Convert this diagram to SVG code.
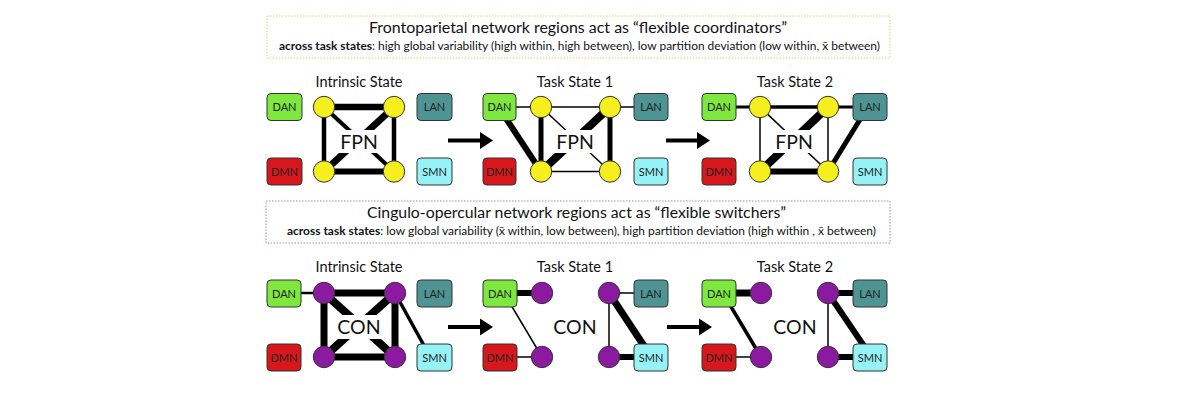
<svg xmlns="http://www.w3.org/2000/svg" width="1200" height="400" viewBox="0 0 1200 400">
<style>
text{font-family:Lato,"Noto Sans","DejaVu Sans",sans-serif;fill:#111}
.title{font-size:15.5px}
.sub{font-size:11.5px}
.sub .b{font-weight:700}
.state{font-size:14.5px;text-anchor:middle}
.net{font-size:19.5px;text-anchor:middle}
.lbl{font-size:11px;text-anchor:middle;fill:#222}
.box{stroke:#333;stroke-width:1}
.dan{fill:#7ee83f}
.dmn{fill:#d8171c}
.lan{fill:#4f9494}
.smn{fill:#95f3f6}
.y{fill:#f5ef20;stroke:#333;stroke-width:1}
.p{fill:#8b1aa0;stroke:#333;stroke-width:1}
.e{stroke:#000;fill:none}
.w{fill:#fff}
.arr{fill:#000}
</style>
<rect width="1200" height="400" fill="#fff"/>
<g id="header-fpn">
<rect x="267" y="16" width="623" height="42" fill="none" stroke="#d3d86c" stroke-width="1" stroke-dasharray="1.5 1.5"/>
<text class="title" x="369" y="33" textLength="418" lengthAdjust="spacingAndGlyphs">Frontoparietal network regions act as “flexible coordinators”</text>
<text class="sub" x="279" y="50" textLength="601" lengthAdjust="spacingAndGlyphs"><tspan class="b">across task states</tspan>: high global variability (high within, high between), low partition deviation (low within, x̄ between)</text>
</g>
<g id="header-con">
<rect x="266" y="201" width="624" height="42" fill="none" stroke="#b47ac4" stroke-width="1" stroke-dasharray="1.5 1.5"/>
<text class="title" x="367" y="218" textLength="419" lengthAdjust="spacingAndGlyphs">Cingulo-opercular network regions act as “flexible switchers”</text>
<text class="sub" x="287" y="235" textLength="589" lengthAdjust="spacingAndGlyphs"><tspan class="b">across task states</tspan>: low global variability (x̄ within, low between), high partition deviation (high within , x̄ between)</text>
</g>
<g id="connectors">
<!-- top intrinsic -->
<line class="e" x1="324" y1="107" x2="394" y2="107" stroke-width="6.5"/>
<line class="e" x1="324" y1="171.5" x2="394" y2="171.5" stroke-width="6"/>
<line class="e" x1="324" y1="107" x2="324" y2="171.5" stroke-width="4.5"/>
<line class="e" x1="394" y1="107" x2="394" y2="171.5" stroke-width="4.5"/>
<line class="e" x1="324" y1="107" x2="394" y2="171.5" stroke-width="4"/>
<line class="e" x1="394" y1="107" x2="324" y2="171.5" stroke-width="7"/>
<!-- top task1 -->
<line class="e" x1="516" y1="107" x2="541" y2="107" stroke-width="1.5"/>
<line class="e" x1="541" y1="107" x2="610" y2="107" stroke-width="1.5"/>
<line class="e" x1="610" y1="107" x2="634" y2="107" stroke-width="1.5"/>
<line class="e" x1="503" y1="114" x2="541" y2="171.5" stroke-width="6"/>
<line class="e" x1="541" y1="107" x2="541" y2="171.5" stroke-width="5"/>
<line class="e" x1="610" y1="107" x2="610" y2="171.5" stroke-width="5"/>
<line class="e" x1="610" y1="107" x2="541" y2="171.5" stroke-width="8"/>
<line class="e" x1="541" y1="107" x2="610" y2="171.5" stroke-width="1.5"/>
<line class="e" x1="541" y1="171.5" x2="610" y2="171.5" stroke-width="1.5"/>
<!-- top task2 -->
<line class="e" x1="736" y1="107" x2="760" y2="107" stroke-width="3"/>
<line class="e" x1="760" y1="107" x2="828" y2="107" stroke-width="3.5"/>
<line class="e" x1="828" y1="107" x2="853" y2="107" stroke-width="3"/>
<line class="e" x1="760" y1="107" x2="760" y2="171.5" stroke-width="1.5"/>
<line class="e" x1="828" y1="107" x2="828" y2="171.5" stroke-width="1.5"/>
<line class="e" x1="760" y1="107" x2="828" y2="171.5" stroke-width="1.5"/>
<line class="e" x1="828" y1="107" x2="760" y2="171.5" stroke-width="8"/>
<line class="e" x1="760" y1="171.5" x2="828" y2="171.5" stroke-width="6"/>
<line class="e" x1="864" y1="113" x2="828" y2="171.5" stroke-width="5"/>
<!-- bottom intrinsic -->
<line class="e" x1="301" y1="293" x2="324" y2="293" stroke-width="2.5"/>
<line class="e" x1="324" y1="293" x2="395" y2="293" stroke-width="7"/>
<line class="e" x1="324" y1="357" x2="395" y2="357" stroke-width="7"/>
<line class="e" x1="324" y1="293" x2="324" y2="357" stroke-width="7"/>
<line class="e" x1="395" y1="293" x2="395" y2="357" stroke-width="7"/>
<line class="e" x1="324" y1="293" x2="395" y2="357" stroke-width="8"/>
<line class="e" x1="395" y1="293" x2="324" y2="357" stroke-width="8"/>
<line class="e" x1="395" y1="293" x2="427" y2="351" stroke-width="3.5"/>
<!-- bottom task1 -->
<line class="e" x1="517" y1="293" x2="542" y2="293" stroke-width="6"/>
<line class="e" x1="508" y1="300" x2="542" y2="357" stroke-width="1.5"/>
<line class="e" x1="517" y1="357" x2="542" y2="357" stroke-width="1.5"/>
<line class="e" x1="609" y1="293" x2="634" y2="293" stroke-width="1.5"/>
<line class="e" x1="609" y1="293" x2="609" y2="357" stroke-width="1.5"/>
<line class="e" x1="609" y1="293" x2="648" y2="352" stroke-width="7"/>
<line class="e" x1="609" y1="357" x2="634" y2="357" stroke-width="6"/>
<!-- bottom task2 -->
<line class="e" x1="736" y1="293" x2="761" y2="293" stroke-width="7"/>
<line class="e" x1="727" y1="300" x2="761" y2="357" stroke-width="3.5"/>
<line class="e" x1="736" y1="357" x2="761" y2="357" stroke-width="1.5"/>
<line class="e" x1="828" y1="293" x2="853" y2="293" stroke-width="6"/>
<line class="e" x1="828" y1="293" x2="828" y2="357" stroke-width="1.5"/>
<line class="e" x1="828" y1="293" x2="868" y2="352" stroke-width="6"/>
<line class="e" x1="828" y1="357" x2="853" y2="357" stroke-width="6"/>
<!-- arrows -->
<rect class="arr" x="448" y="138.5" width="34" height="4"/>
<polygon class="arr" points="480,132 493,140.5 480,149"/>
<rect class="arr" x="666" y="138.5" width="33" height="4"/>
<polygon class="arr" points="697,132 710,140.5 697,149"/>
<rect class="arr" x="448" y="325" width="34" height="4"/>
<polygon class="arr" points="480,318.5 493,327 480,335.5"/>
<rect class="arr" x="667" y="325" width="34" height="4"/>
<polygon class="arr" points="699,318.5 712,327 699,335.5"/>
</g>
<g id="titles">
<text class="state" x="359" y="87">Intrinsic State</text>
<text class="state" x="575" y="87">Task State 1</text>
<text class="state" x="795" y="87">Task State 2</text>
<text class="state" x="359" y="272">Intrinsic State</text>
<text class="state" x="575" y="272">Task State 1</text>
<text class="state" x="795" y="272">Task State 2</text>
</g>
<!-- top intrinsic nodes -->
<g id="fpn-intrinsic">
<rect class="w" x="338" y="130" width="41" height="23"/>
<text class="net" x="359" y="148.5">FPN</text>
<circle class="y" cx="324" cy="107" r="10.7"/>
<circle class="y" cx="394" cy="107" r="10.7"/>
<circle class="y" cx="324" cy="171.5" r="10.7"/>
<circle class="y" cx="394" cy="171.5" r="10.7"/>
</g>
<g id="dan-t0"><rect class="box dan" x="267" y="93.5" width="35" height="27" rx="4"/><text class="lbl" x="284.5" y="111">DAN</text></g>
<g id="dmn-t0"><rect class="box dmn" x="267" y="158" width="35" height="27" rx="4"/><text class="lbl" x="284.5" y="175.5">DMN</text></g>
<g id="lan-t0"><rect class="box lan" x="417" y="93.5" width="35" height="27" rx="4"/><text class="lbl" x="434.5" y="111">LAN</text></g>
<g id="smn-t0"><rect class="box smn" x="417" y="158" width="35" height="27" rx="4"/><text class="lbl" x="434.5" y="175.5">SMN</text></g>
<!-- top task1 -->
<g id="fpn-task1">
<rect class="w" x="554" y="130" width="41" height="23"/>
<text class="net" x="575" y="148.5">FPN</text>
<circle class="y" cx="541" cy="107" r="10.7"/>
<circle class="y" cx="610" cy="107" r="10.7"/>
<circle class="y" cx="541" cy="171.5" r="10.7"/>
<circle class="y" cx="610" cy="171.5" r="10.7"/>
</g>
<g id="dan-t1"><rect class="box dan" x="483" y="93.5" width="33" height="27" rx="4"/><text class="lbl" x="499.5" y="111">DAN</text></g>
<g id="dmn-t1"><rect class="box dmn" x="483" y="158" width="33" height="27" rx="4"/><text class="lbl" x="499.5" y="175.5">DMN</text></g>
<g id="lan-t1"><rect class="box lan" x="634" y="93.5" width="34" height="27" rx="4"/><text class="lbl" x="651" y="111">LAN</text></g>
<g id="smn-t1"><rect class="box smn" x="634" y="158" width="34" height="27" rx="4"/><text class="lbl" x="651" y="175.5">SMN</text></g>
<!-- top task2 -->
<g id="fpn-task2">
<rect class="w" x="773" y="130" width="41" height="23"/>
<text class="net" x="794" y="148.5">FPN</text>
<circle class="y" cx="760" cy="107" r="10.7"/>
<circle class="y" cx="828" cy="107" r="10.7"/>
<circle class="y" cx="760" cy="171.5" r="10.7"/>
<circle class="y" cx="828" cy="171.5" r="10.7"/>
</g>
<g id="dan-t2"><rect class="box dan" x="702" y="93.5" width="34" height="27" rx="4"/><text class="lbl" x="719" y="111">DAN</text></g>
<g id="dmn-t2"><rect class="box dmn" x="702" y="158" width="34" height="27" rx="4"/><text class="lbl" x="719" y="175.5">DMN</text></g>
<g id="lan-t2"><rect class="box lan" x="853" y="93.5" width="34" height="27" rx="4"/><text class="lbl" x="870" y="111">LAN</text></g>
<g id="smn-t2"><rect class="box smn" x="853" y="158" width="34" height="27" rx="4"/><text class="lbl" x="870" y="175.5">SMN</text></g>
<!-- bottom intrinsic -->
<g id="con-intrinsic">
<rect class="w" x="336" y="315" width="46" height="24"/>
<text class="net" x="359" y="334">CON</text>
<circle class="p" cx="324" cy="293" r="10.7"/>
<circle class="p" cx="395" cy="293" r="10.7"/>
<circle class="p" cx="324" cy="357" r="10.7"/>
<circle class="p" cx="395" cy="357" r="10.7"/>
</g>
<g id="dan-b0"><rect class="box dan" x="267" y="280" width="34" height="27" rx="4"/><text class="lbl" x="284" y="297.5">DAN</text></g>
<g id="dmn-b0"><rect class="box dmn" x="267" y="344" width="34" height="27" rx="4"/><text class="lbl" x="284" y="361.5">DMN</text></g>
<g id="lan-b0"><rect class="box lan" x="417" y="280" width="35" height="27" rx="4"/><text class="lbl" x="434.5" y="297.5">LAN</text></g>
<g id="smn-b0"><rect class="box smn" x="417" y="344" width="35" height="27" rx="4"/><text class="lbl" x="434.5" y="361.5">SMN</text></g>
<!-- bottom task1 -->
<g id="con-task1">
<text class="net" x="575" y="334">CON</text>
<circle class="p" cx="542" cy="293" r="10.7"/>
<circle class="p" cx="609" cy="293" r="10.7"/>
<circle class="p" cx="542" cy="357" r="10.7"/>
<circle class="p" cx="609" cy="357" r="10.7"/>
</g>
<g id="dan-b1"><rect class="box dan" x="483" y="280" width="34" height="27" rx="4"/><text class="lbl" x="500" y="297.5">DAN</text></g>
<g id="dmn-b1"><rect class="box dmn" x="483" y="344" width="34" height="27" rx="4"/><text class="lbl" x="500" y="361.5">DMN</text></g>
<g id="lan-b1"><rect class="box lan" x="634" y="280" width="34" height="27" rx="4"/><text class="lbl" x="651" y="297.5">LAN</text></g>
<g id="smn-b1"><rect class="box smn" x="634" y="344" width="34" height="27" rx="4"/><text class="lbl" x="651" y="361.5">SMN</text></g>
<!-- bottom task2 -->
<g id="con-task2">
<text class="net" x="795" y="334">CON</text>
<circle class="p" cx="761" cy="293" r="10.7"/>
<circle class="p" cx="828" cy="293" r="10.7"/>
<circle class="p" cx="761" cy="357" r="10.7"/>
<circle class="p" cx="828" cy="357" r="10.7"/>
</g>
<g id="dan-b2"><rect class="box dan" x="702" y="280" width="34" height="27" rx="4"/><text class="lbl" x="719" y="297.5">DAN</text></g>
<g id="dmn-b2"><rect class="box dmn" x="702" y="344" width="34" height="27" rx="4"/><text class="lbl" x="719" y="361.5">DMN</text></g>
<g id="lan-b2"><rect class="box lan" x="853" y="280" width="34" height="27" rx="4"/><text class="lbl" x="870" y="297.5">LAN</text></g>
<g id="smn-b2"><rect class="box smn" x="853" y="344" width="34" height="27" rx="4"/><text class="lbl" x="870" y="361.5">SMN</text></g>
</svg>
